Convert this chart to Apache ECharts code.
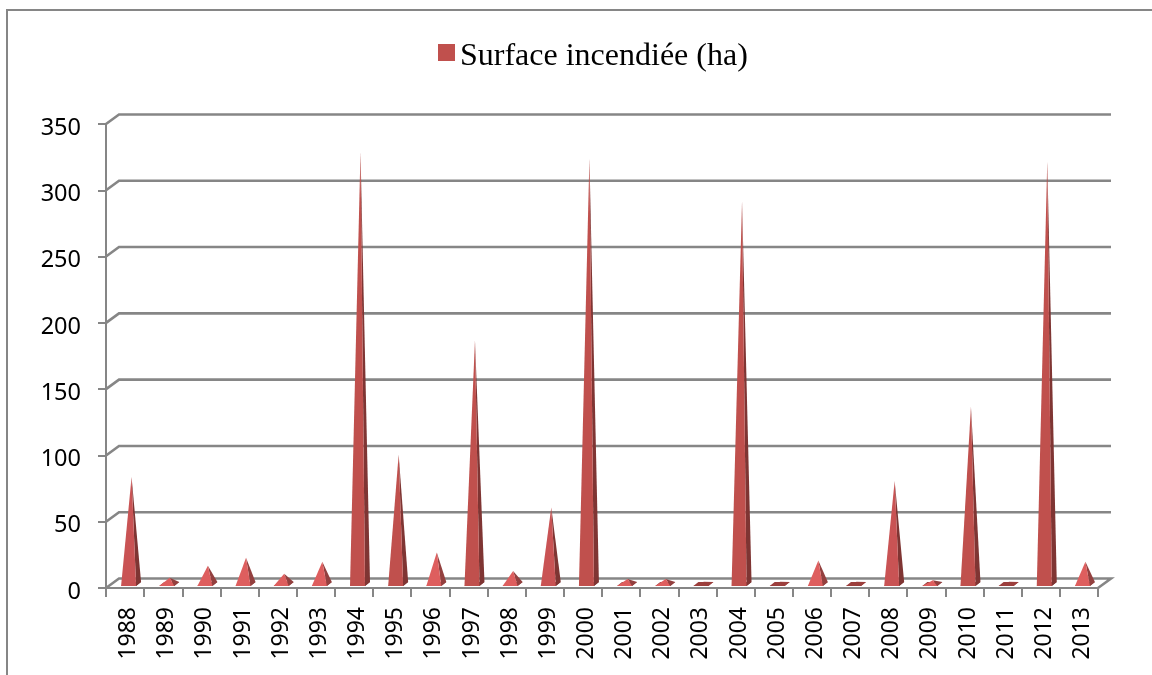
<!DOCTYPE html>
<html>
<head>
<meta charset="utf-8">
<script src="https://cdn.jsdelivr.net/npm/echarts@6/dist/echarts.min.js"></script>
<style>
  html, body { margin: 0; padding: 0; background: #fff; }
  #chart { width: 1152px; height: 675px; }
</style>
</head>
<body>
<div id="chart"></div>
<script>
const years = ['1988','1989','1990','1991','1992','1993','1994','1995','1996','1997','1998','1999','2000','2001','2002','2003','2004','2005','2006','2007','2008','2009','2010','2011','2012','2013'];
const surface = [80,4,13,19,7,16,325,97,23,183,9,57,320,3,3,1,288,1,17,1,77,2,133,1,318,16];
const yTicks = [0,50,100,150,200,250,300,350];

const gray = '#868686';
const depthX = 13;
const depthY = -9.5;

const chart = echarts.init(document.getElementById('chart'));

// back wall lines + the little diagonals joining them to the front axis
function renderWall(params, api) {
  const cs = params.coordSys;
  const y = api.coord([0, api.value(0)])[1];
  const left = cs.x;
  const right = cs.x + cs.width;
  const pts = [[left, y], [left + depthX, y + depthY], [right + depthX, y + depthY]];
  if (api.value(0) === 0) pts.push([right, y]);
  return {
    type: 'polyline',
    shape: { points: pts },
    style: { stroke: gray, lineWidth: 2.6, fill: null }
  };
}

function renderPyramid(params, api) {
  const i = api.value(0);
  const v = api.value(1);
  const top = api.coord([i, v]);
  const base = api.coord([i, 0]);
  const fl = [base[0] - 4, base[1] - 2];
  const fr = [base[0] + 11, base[1] - 2];
  const br = [base[0] + 16, base[1] - 6];
  const bl = [base[0] + 1, base[1] - 6];
  const apex = [base[0] + 6.5, top[1] - 5];
  // short pyramids catch more light in the original
  let front = '#c0504d';
  let side = '#7f3533';
  if (v <= 1) { front = '#9c3f3d'; side = '#9c3f3d'; }
  else if (v < 30) { front = '#de5e5e'; side = '#93403f'; }
  else if (v < 90) { front = '#c95354'; }
  return {
    type: 'group',
    children: [
      { type: 'polygon', shape: { points: [fl, fr, br, bl] }, style: { fill: side } },
      { type: 'polygon', shape: { points: [fr, br, apex] }, style: { fill: side } },
      { type: 'polygon', shape: { points: [fl, fr, apex] }, style: { fill: front } }
    ]
  };
}

chart.setOption({
  animation: false,
  backgroundColor: '#fff',
  graphic: [{
    type: 'polyline',
    shape: { points: [[7, 690], [7, 10], [1160, 10]] },
    style: { fill: null, stroke: gray, lineWidth: 2 },
    silent: true
  }],
  legend: {
    data: ['Surface incendiée (ha)'],
    left: 433,
    top: 36,
    icon: 'rect',
    itemWidth: 17,
    itemHeight: 17,
    itemGap: 6,
    formatter: '{t|{name}}',
    textStyle: {
      rich: { t: { fontFamily: 'Liberation Serif', fontSize: 32, color: '#000', padding: [9, 0, 0, 0] } }
    }
  },
  grid: { left: 106, right: 54, top: 124, bottom: 87 },
  xAxis: {
    type: 'category',
    data: years,
    boundaryGap: true,
    axisLine: { lineStyle: { color: gray, width: 2 } },
    axisTick: { show: true, alignWithLabel: false, length: 9, lineStyle: { color: gray, width: 2 } },
    axisLabel: { interval: 0, rotate: 90, margin: 19, verticalAlign: 'top', lineHeight: 7, fontFamily: 'Noto Sans', fontSize: 23, color: '#000' },
    splitLine: { show: false }
  },
  yAxis: {
    type: 'value',
    min: 0,
    max: 350,
    interval: 50,
    axisLine: { show: true, lineStyle: { color: gray, width: 2 } },
    axisTick: { show: true, length: 8, lineStyle: { color: gray, width: 2 } },
    axisLabel: { margin: 25, verticalAlign: 'top', lineHeight: 8, fontFamily: 'Noto Sans', fontSize: 23.5, color: '#000' },
    splitLine: { show: false }
  },
  series: [
    {
      type: 'custom',
      silent: true,
      clip: false,
      z: 1,
      encode: { y: 0 },
      data: yTicks.map(t => [t]),
      renderItem: renderWall
    },
    {
      name: 'Surface incendiée (ha)',
      type: 'custom',
      clip: false,
      z: 3,
      itemStyle: { color: '#c0504d' },
      encode: { x: 0, y: 1 },
      data: surface.map((v, i) => [i, v]),
      renderItem: renderPyramid
    }
  ]
});
</script>
</body>
</html>
